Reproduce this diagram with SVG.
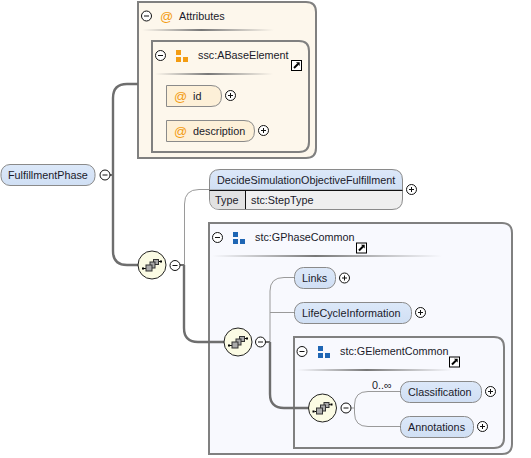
<svg xmlns="http://www.w3.org/2000/svg" width="531" height="458" viewBox="0 0 531 458">
<style>
text{font-family:"Liberation Sans",Arial,sans-serif;font-size:10.8px;fill:#1a1a2a}
.box{stroke:#808080;stroke-width:2}
.pill{fill:url(#pg);stroke:#8a8a8a;stroke-width:1}
.attr{fill:#fdf0d8;stroke:#8a8a8a;stroke-width:1}
text.at{fill:#f39c12;font-size:13px}
.thin{fill:none;stroke:#9a9a9a;stroke-width:1}
.thick{fill:none;stroke:#6e6e6e;stroke-width:2.400}
.seq{fill:#fbfbe4;stroke:#222;stroke-width:1}
</style>
<defs>
<linearGradient id="sep"><stop offset="0" stop-color="#888" stop-opacity="0"/><stop offset=".45" stop-color="#777"/><stop offset="1" stop-color="#888" stop-opacity="0"/></linearGradient>
<linearGradient id="pg" x1="0" y1="0" x2="0" y2="1"><stop offset="0" stop-color="#dce8f9"/><stop offset="1" stop-color="#d0dff4"/></linearGradient>
<g id="minus"><circle r="5" cx="0" cy="0" fill="#fff" stroke="#111"/><path d="M-2.500 0H2.500" stroke="#111"/></g>
<g id="plus"><circle r="5" cx="0" cy="0" fill="#fff" stroke="#111"/><path d="M-2.500 0H2.500M0-2.500V2.500" stroke="#111"/></g>
<g id="link"><rect x="-5" y="-5" width="10" height="10" fill="#fff" stroke="#000"/><path d="M-2.500 2.500L1.500-1.500" stroke="#000" stroke-width="2" fill="none"/><path d="M-.5-3.200H3.200V.5Z" fill="#000"/></g>
<g id="tri"><rect x="-6" y="-6" width="5" height="5"/><rect x="-6" y="1" width="5" height="5"/><rect x="1" y="1" width="5" height="5"/></g>
<g id="seqi"><circle r="14" class="seq"/><path d="M-8 3.500H-5M5-3.500H8" stroke="#000"/><rect x="-10" y="2.500" width="2" height="2" fill="#000"/><rect x="8" y="-4.500" width="2" height="2" fill="#000"/><rect x="1.500" y="-5.500" width="5" height="5" fill="#aaa" stroke="#333"/><rect x="-2" y="-3" width="5" height="6" fill="#aaa" stroke="#333"/><rect x="-6" y="0" width="6" height="6" fill="#aaa" stroke="#333"/></g>
</defs>

<g id="attributes">
<path class="box" fill="#fdf7ec" d="M138 2H306Q316 2 316 12V148Q316 158 306 158H138Z"/>
<use href="#minus" x="146.500" y="16"/>
<text class="at" x="160" y="21">@</text>
<text x="179" y="20">Attributes</text>
<rect x="142" y="29" width="132" height="2" fill="url(#sep)"/>
</g>
<g id="aBaseElement">
<path class="box" fill="#fdf7ec" d="M152 41H299Q309 41 309 51V142Q309 152 299 152H152Z"/>
<use href="#minus" x="160.500" y="55.500"/>
<use href="#tri" x="182" y="56" fill="#f39c12"/>
<text x="198" y="59">ssc:ABaseElement</text>
<use href="#link" x="296.500" y="65.500"/>
<rect x="155" y="73" width="118" height="2" fill="url(#sep)"/>
</g>
<g id="gPhaseCommon">
<path class="box" fill="#f8f9fe" d="M209 223H502Q512 223 512 233V444Q512 454 502 454H209Z"/>
<use href="#minus" x="217.500" y="237.500"/>
<use href="#tri" x="239" y="238" fill="#1f66b4"/>
<text x="255" y="241">stc:GPhaseCommon</text>
<use href="#link" x="361.500" y="248"/>
<rect x="212" y="255" width="230" height="2" fill="url(#sep)"/>
</g>
<g id="gElementCommon">
<path class="box" fill="#f8f9fe" d="M294 337H494Q504 337 504 347V438Q504 448 494 448H294Z"/>
<use href="#minus" x="302" y="351.500"/>
<use href="#tri" x="324" y="352" fill="#1f66b4"/>
<text x="340" y="355">stc:GElementCommon</text>
<use href="#link" x="454.500" y="362"/>
<rect x="297" y="369" width="155" height="2" fill="url(#sep)"/>
</g>

<g id="connectors">
<path class="thick" d="M113 175V98Q113 84 127 84H138"/>
<path class="thick" d="M113 175V251Q113 265 127 265H138"/>
<path d="M110 175H113" stroke="#6e6e6e" stroke-width="2"/>
<path class="thin" d="M184.500 265V204Q184.500 189.500 199 189.500H209"/>
<path class="thick" d="M184 265V328Q184 342 198 342H224"/>
<path d="M180 265H184" stroke="#6e6e6e" stroke-width="2"/>
<path class="thin" d="M270 342V291Q270 277.500 284 277.500H295"/>
<path class="thin" d="M270 312.500H295"/>
<path class="thick" d="M270 342V394Q270 408 284 408H309"/>
<path d="M266 342H270" stroke="#6e6e6e" stroke-width="2"/>
<path class="thin" d="M354.500 408V405Q354.500 391.500 368 391.500H400"/>
<path class="thin" d="M354.500 408V413Q354.500 426.500 368 426.500H400"/>
<path class="thin" d="M351 408H354.500"/>
</g>

<g id="id">
<path class="attr" d="M166.500 85.500H211Q221.500 85.500 221.500 96Q221.500 106.500 211 106.500H166.500Z"/>
<text class="at" x="174" y="101">@</text>
<text x="193" y="100">id</text>
<use href="#plus" x="230.500" y="95.500"/>
</g>
<g id="description">
<path class="attr" d="M166.500 120.500H244Q254.500 120.500 254.500 131Q254.500 141.500 244 141.500H166.500Z"/>
<text class="at" x="174" y="136">@</text>
<text x="193" y="135">description</text>
<use href="#plus" x="263.500" y="130.500"/>
</g>

<g id="fulfillmentPhase">
<rect class="pill" x="1" y="164.500" width="94" height="21" rx="9"/>
<text x="8" y="179">FulfillmentPhase</text>
<use href="#minus" x="105" y="175"/>
</g>

<g id="seq1"><use href="#seqi" x="152" y="265"/><use href="#minus" x="175" y="265.500"/></g>

<g id="decide">
<path fill="#efefef" stroke="#8a8a8a" d="M209.500 190H402.500V199Q402.500 209.500 392 209.500H220Q209.500 209.500 209.500 199Z"/>
<path fill="#e2e2e2" d="M210 190.500H245V209H220Q210 209 210 199Z"/>
<path fill="url(#pg)" stroke="#8a8a8a" d="M209.500 190V180Q209.500 169.500 220 169.500H392Q402.500 169.500 402.500 180V190Z"/>
<path d="M209.500 190.500H402.500M245.500 190.500V209" stroke="#111" fill="none"/>
<text x="217" y="184">DecideSimulationObjectiveFulfillment</text>
<text x="215" y="204">Type</text>
<text x="251" y="204">stc:StepType</text>
<use href="#plus" x="411.500" y="189.500"/>
</g>

<g id="seq2"><use href="#seqi" x="238" y="342"/><use href="#minus" x="260.500" y="342"/></g>
<g id="links">
<rect class="pill" x="294.500" y="267.500" width="41" height="21" rx="9"/>
<text x="302" y="282">Links</text>
<use href="#plus" x="344.500" y="278"/>
</g>
<g id="lifeCycleInformation">
<rect class="pill" x="294.500" y="302.500" width="117" height="21" rx="9"/>
<text x="302" y="317">LifeCycleInformation</text>
<use href="#plus" x="420.500" y="312.500"/>
</g>
<g id="seq3"><use href="#seqi" x="322.500" y="408"/><use href="#minus" x="346" y="408"/></g>
<g id="classification">
<text x="372" y="389">0..∞</text>
<rect class="pill" x="400.500" y="381.500" width="81" height="21" rx="9"/>
<text x="408" y="396">Classification</text>
<use href="#plus" x="490.500" y="391.500"/>
</g>
<g id="annotations">
<rect class="pill" x="400.500" y="416.500" width="73" height="21" rx="9"/>
<text x="408" y="431">Annotations</text>
<use href="#plus" x="482.500" y="426.500"/>
</g>
</svg>
